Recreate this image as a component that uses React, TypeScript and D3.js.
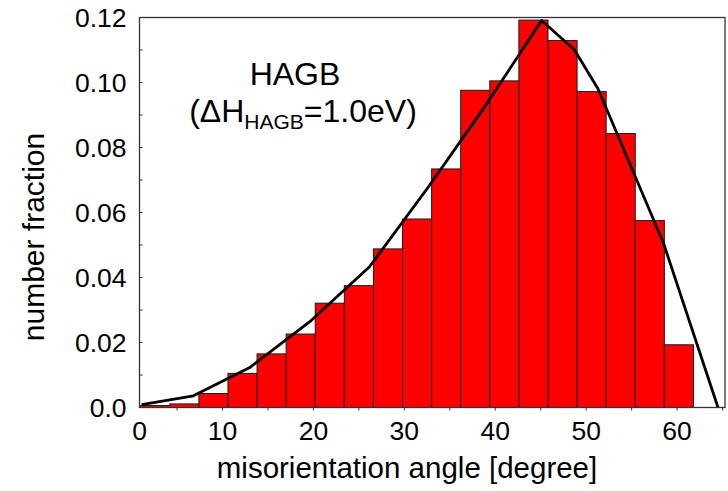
import React, { useEffect, useRef } from 'react';
import * as d3 from 'd3';

const width = 728;
const height = 491;
const font = '"Liberation Sans", Arial, Helvetica, sans-serif';

// histogram bins (lower edge, degrees) and measured number fraction
const binStart = [1, 4.2, 7.4, 10.6, 13.8, 17, 20.2, 23.4, 26.6, 29.8, 33, 36.2, 39.4, 42.6, 45.8, 49, 52.2, 55.4, 58.6];
const binWidth = 3.2;
const fraction = [
  0.0006, 0.0011, 0.0043, 0.0105, 0.0165, 0.0226, 0.0321, 0.0375, 0.0488, 0.058,
  0.0734, 0.0976, 0.1005, 0.1192, 0.1129, 0.0972, 0.0843, 0.0575, 0.0193,
];

// model curve
const modelAngle = [1.1, 6.8, 13.0, 19.6, 26.2, 32.6, 39.0, 45.1, 48.7, 51.3, 58.5, 64.5];
const modelFraction = [0.0009, 0.0036, 0.0123, 0.0264, 0.0434, 0.0677, 0.0932, 0.1191, 0.1101, 0.0981, 0.0506, 0.0];

// axes
const xTicks = [5, 10, 15, 20, 25, 30, 35, 40, 45, 50, 55, 60, 65];
const xLabels = [0, 10, 20, 30, 40, 50, 60];
const yTicks = [0.01, 0.02, 0.03, 0.04, 0.05, 0.06, 0.07, 0.08, 0.09, 0.1, 0.11];
const yLabels = [0, 0.02, 0.04, 0.06, 0.08, 0.1, 0.12];

const margin = { top: 17.5, right: 3, bottom: 83.5, left: 139.5 };

export default function App() {
  const ref = useRef<SVGSVGElement>(null);

  useEffect(() => {
    const svg = d3.select(ref.current);
    svg.selectAll('*').remove();

    const x = d3.scaleLinear().domain([0.87, 65.27]).range([margin.left, width - margin.right]);
    const y = d3.scaleLinear().domain([0, 0.12]).range([height - margin.bottom, margin.top]);
    const [x0, x1] = x.range();
    const [y0, y1] = y.range();

    // bars
    svg
      .append('g')
      .selectAll('rect')
      .data(fraction)
      .join('rect')
      .attr('x', (_, i) => x(binStart[i]))
      .attr('width', (_, i) => x(binStart[i] + binWidth) - x(binStart[i]))
      .attr('y', (d) => y(d))
      .attr('height', (d) => y(0) - y(d))
      .attr('fill', '#ff0000')
      .attr('stroke', '#1a1a1a')
      .attr('stroke-width', 1);

    // model line
    const line = d3
      .line<number>()
      .x((d) => x(d))
      .y((_, i) => y(modelFraction[i]));
    svg
      .append('path')
      .attr('d', line(modelAngle))
      .attr('fill', 'none')
      .attr('stroke', '#000')
      .attr('stroke-width', 2.8)
      .attr('stroke-linejoin', 'round');

    // frame
    svg
      .append('rect')
      .attr('x', x0)
      .attr('y', y1)
      .attr('width', x1 - x0)
      .attr('height', y0 - y1)
      .attr('fill', 'none')
      .attr('stroke', '#333')
      .attr('stroke-width', 1.3);

    // x ticks (outward) and labels
    svg
      .append('g')
      .selectAll('line')
      .data(xTicks)
      .join('line')
      .attr('x1', (d) => x(d))
      .attr('x2', (d) => x(d))
      .attr('y1', y0)
      .attr('y2', y0 + 3)
      .attr('stroke', '#333');
    svg
      .append('g')
      .selectAll('text')
      .data(xLabels)
      .join('text')
      .attr('x', (d) => Math.max(x(d), x0))
      .attr('y', y0 + 32)
      .attr('text-anchor', 'middle')
      .attr('font-family', font)
      .attr('font-size', 26.5)
      .text((d) => d);

    // y ticks (inward) and labels
    svg
      .append('g')
      .selectAll('line')
      .data(yTicks)
      .join('line')
      .attr('x1', x0)
      .attr('x2', x0 + 3)
      .attr('y1', (d) => y(d))
      .attr('y2', (d) => y(d))
      .attr('stroke', '#333');
    svg
      .append('g')
      .selectAll('text')
      .data(yLabels)
      .join('text')
      .attr('x', x0 - 13)
      .attr('y', (d) => y(d) + 9.5)
      .attr('text-anchor', 'end')
      .attr('font-family', font)
      .attr('font-size', 26.5)
      .text((d) => (d === 0 ? '0.0' : d3.format('.2f')(d)));

    // axis titles
    svg
      .append('text')
      .attr('x', 407)
      .attr('y', 478)
      .attr('text-anchor', 'middle')
      .attr('font-family', font)
      .attr('font-size', 29.5)
      .text('misorientation angle [degree]');
    svg
      .append('text')
      .attr('transform', 'translate(44,237) rotate(-90)')
      .attr('text-anchor', 'middle')
      .attr('font-family', font)
      .attr('font-size', 30)
      .text('number fraction');

    // annotation
    svg
      .append('text')
      .attr('x', 295)
      .attr('y', 85)
      .attr('text-anchor', 'middle')
      .attr('font-family', font)
      .attr('font-size', 32)
      .text('HAGB');
    const note = svg
      .append('text')
      .attr('x', 303)
      .attr('y', 121.5)
      .attr('text-anchor', 'middle')
      .attr('font-family', font)
      .attr('font-size', 32);
    note.append('tspan').text('(\u0394H');
    note.append('tspan').attr('font-size', 21).attr('dy', 7).text('HAGB');
    note.append('tspan').attr('dy', -7).text('=1.0eV)');
  }, []);

  return (
    <svg
      ref={ref}
      width={width}
      height={height}
      style={{ position: 'absolute', left: 0, top: 0, background: '#fff' }}
    />
  );
}
